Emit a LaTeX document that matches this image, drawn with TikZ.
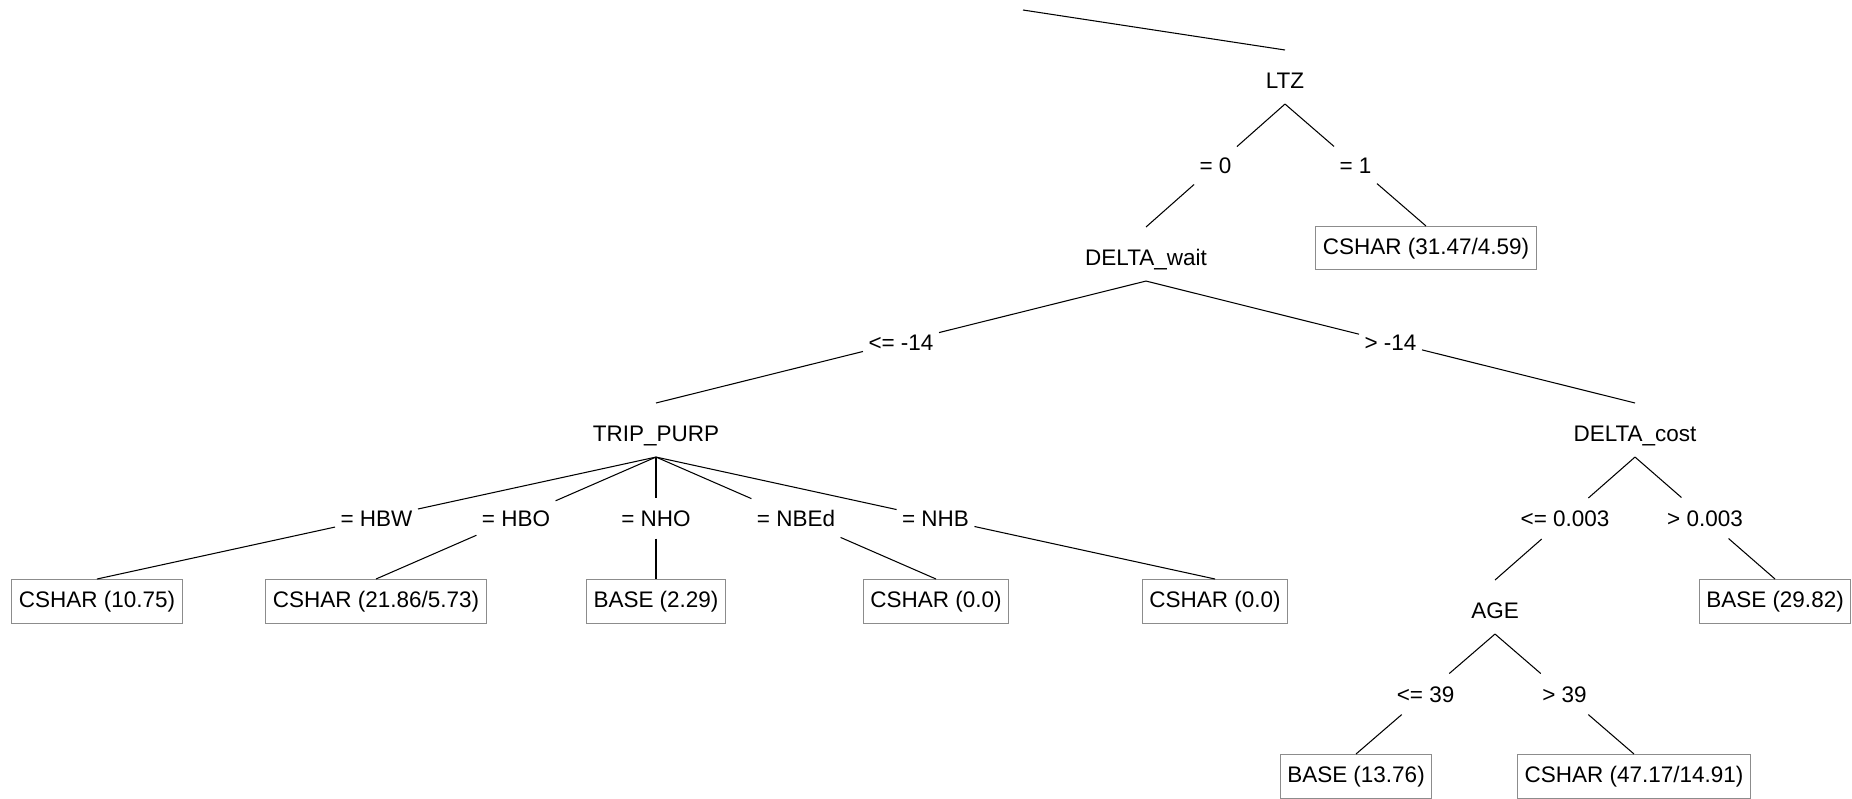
\documentclass[tikz,border=0pt]{standalone}
\usepackage{fontspec}
\setmainfont{Liberation Sans}
\usetikzlibrary{calc}
\begin{document}
\begin{tikzpicture}[x=0.02cm, y=-0.02cm, line width=0.6pt,
  every node/.style={font=\fontsize{12.8}{15}\selectfont},
  attr/.style={anchor=north, inner sep=0pt, text height=0.76cm, text depth=0.30cm},
  leafbox/.style={anchor=north, draw=black!45, line width=0.5pt, inner xsep=0.14cm, inner ysep=0pt, minimum height=0.87cm},
  branch/.style={inner xsep=0.1cm, inner ysep=0pt, text height=0.56cm, text depth=0.24cm}]
\useasboundingbox (0,0) rectangle (1852,798);
% Splits
\node[attr] (ltz) at (1285,50) {LTZ};
\node[attr] (wait) at (1146,227) {DELTA\_wait};
\node[attr] (trip) at (656,403) {TRIP\_PURP};
\node[attr] (cost) at (1635,403) {DELTA\_cost};
\node[attr] (age) at (1495,580) {AGE};
% Leaves
\node[leafbox] (one) at (1426,226) {CSHAR (31.47/4.59)};
\node[leafbox] (hbw) at (97,579) {CSHAR (10.75)};
\node[leafbox] (hbo) at (376,579) {CSHAR (21.86/5.73)};
\node[leafbox] (nho) at (656,579) {BASE (2.29)};
\node[leafbox] (nbed) at (936,579) {CSHAR (0.0)};
\node[leafbox] (nhb) at (1215,579) {CSHAR (0.0)};
\node[leafbox] (dear) at (1775,579) {BASE (29.82)};
\node[leafbox] (young) at (1356,754) {BASE (13.76)};
\node[leafbox] (old) at (1634,754) {CSHAR (47.17/14.91)};
% Cut-off branch above the root
\coordinate (cut) at (1023,10);
\draw (cut) -- (ltz.north);
% Branches
\foreach \p/\c/\t [count=\i] in {ltz/wait/{= 0}, ltz/one/{= 1},
    wait/trip/{<= -14}, wait/cost/{> -14},
    trip/hbw/{= HBW}, trip/hbo/{= HBO}, trip/nho/{= NHO}, trip/nbed/{= NBEd}, trip/nhb/{= NHB},
    cost/age/{<= 0.003}, cost/dear/{> 0.003},
    age/young/{<= 39}, age/old/{> 39}} {
  \node[branch] (b\i) at ($(\p.south)!.5!(\c.north)$) {\t};
  \draw (\p.south) -- (b\i) -- (\c.north);
}
\end{tikzpicture}
\end{document}
